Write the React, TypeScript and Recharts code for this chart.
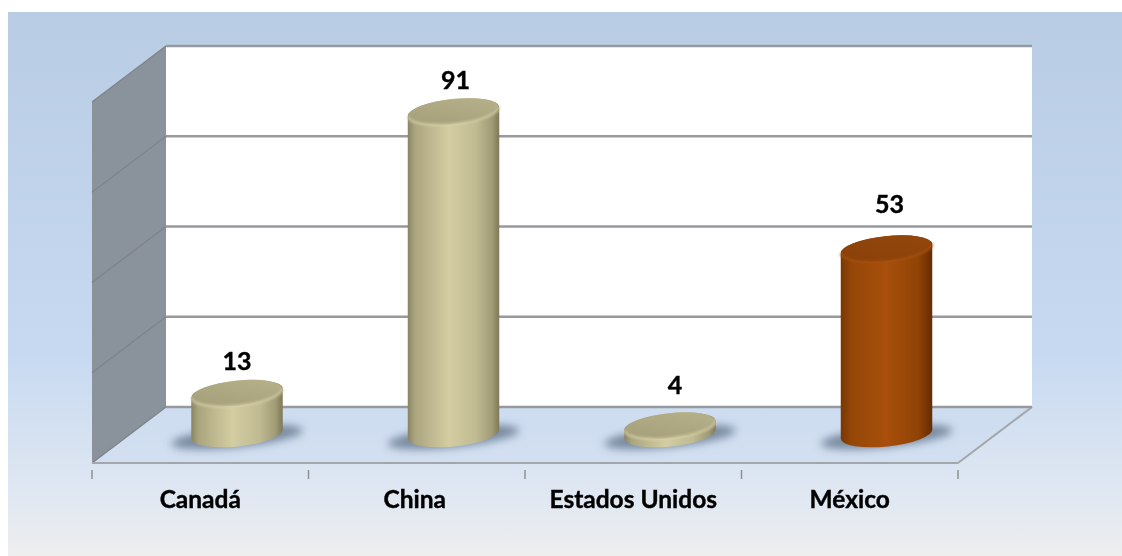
import { BarChart, Bar, XAxis, YAxis, CartesianGrid, LabelList } from 'recharts';

const categories = ['Canadá', 'China', 'Estados Unidos', 'México'];
const values = [13, 91, 4, 53];
const frameTicks = [0, 25, 50, 75, 100];
const highlighted = 'México';

const data = categories.map((category, i) => ({ category, value: values[i] }));

const WIDTH = 1122;
const HEIGHT = 556;
const LEFT = 92;
const TOP = 102;
const RIGHT = 958;
const BOTTOM = 463;
// depth of the fake 3D box, back wall sits this far from the front plane
const DEPTH_X = 74;
const DEPTH_Y = 56;
const BAND = (RIGHT - LEFT) / categories.length;
const FONT = 'Lato, sans-serif';

// hand placed labels in the original
const labelNudgeX = [0, 2, 5, 3];
const labelNudgeY = [-56, -55.5, -64.5, -68.5];
const tickNudge = [0, -2, 0, 0];

// sits in its own svg under the chart, recharts paints the grid below any plain children
const Walls = () => (
  <svg width={WIDTH} height={HEIGHT} style={{ position: 'absolute', left: 0, top: 0 }}>
    <rect x={LEFT + DEPTH_X} y={TOP - DEPTH_Y} width={RIGHT - LEFT} height={BOTTOM - TOP} fill="#ffffff" />
    <polygon
      points={`${LEFT},${TOP} ${LEFT + DEPTH_X},${TOP - DEPTH_Y} ${LEFT + DEPTH_X},${BOTTOM - DEPTH_Y} ${LEFT},${BOTTOM}`}
      fill="#8a929b"
    />
    <polygon
      points={`${LEFT},${BOTTOM} ${LEFT + DEPTH_X},${BOTTOM - DEPTH_Y} ${RIGHT + DEPTH_X},${BOTTOM - DEPTH_Y} ${RIGHT},${BOTTOM}`}
      fill="#c9daf0"
      fillOpacity={0.45}
    />
    <line x1={RIGHT} y1={BOTTOM} x2={RIGHT + DEPTH_X} y2={BOTTOM - DEPTH_Y} stroke="#a3a7ab" strokeWidth={2} />
  </svg>
);

const GridLine = (props: any) => {
  const { x1, x2, y1 } = props;
  return (
    <g>
      <line x1={x1} y1={y1} x2={x1 + DEPTH_X} y2={y1 - DEPTH_Y} stroke="#7f8489" strokeWidth={1.5} />
      <line x1={x1 + DEPTH_X} y1={y1 - DEPTH_Y} x2={x2 + DEPTH_X} y2={y1 - DEPTH_Y} stroke="#969a9e" strokeWidth={2.5} />
    </g>
  );
};

const Cylinder = (props: any) => {
  const { x, y, width, height, payload } = props;
  const rust = payload.category === highlighted;
  const cx = x + width / 2 + DEPTH_X / 2;
  const rx = width / 2;
  const ry = 12.5;
  const tilt = -6;
  const dx = rx * Math.cos((tilt * Math.PI) / 180);
  const dy = rx * Math.sin((tilt * Math.PI) / 180);
  // the cap reads a little higher than the floor offset, columns stand mid depth
  const topY = y - 23;
  const baseY = y + height - 29;
  const side = `M${cx - dx},${topY - dy} L${cx - dx},${baseY - dy} A${rx},${ry} ${tilt} 0 0 ${cx + dx},${baseY + dy} L${cx + dx},${topY + dy} A${rx},${ry} ${tilt} 0 0 ${cx - dx},${topY - dy} Z`;
  const rim = `M${cx - dx},${topY - dy} A${rx},${ry} ${tilt} 0 0 ${cx + dx},${topY + dy}`;
  return (
    <g>
      <ellipse
        cx={cx}
        cy={baseY + 3}
        rx={rx + 20}
        ry={10}
        fill="#66788e"
        fillOpacity={0.85}
        filter="url(#softShadow)"
        transform={`rotate(${tilt} ${cx} ${baseY + 3})`}
      />
      <path d={side} fill={rust ? 'url(#rustBody)' : 'url(#khakiBody)'} />
      <ellipse
        cx={cx}
        cy={topY}
        rx={rx - 0.5}
        ry={ry}
        fill={rust ? 'url(#rustTop)' : 'url(#khakiTop)'}
        transform={`rotate(${tilt} ${cx} ${topY})`}
      />
      <path
        d={rim}
        fill="none"
        stroke={rust ? '#a9530f' : '#d9d3ab'}
        strokeWidth={2.5}
        strokeOpacity={0.7}
        filter="url(#softRim)"
      />
    </g>
  );
};

const ValueLabel = (props: any) => {
  const { x, y, width, value, index } = props;
  return (
    <text
      x={x + width / 2 + DEPTH_X / 2 + labelNudgeX[index]}
      y={y + labelNudgeY[index]}
      textAnchor="middle"
      dominantBaseline="central"
      fill="#000000"
      stroke="#000000"
      strokeWidth={0.4}
      fontFamily={FONT}
      fontWeight={700}
      fontSize={25}
    >
      {value}
    </text>
  );
};

const CategoryTick = (props: any) => {
  const { x, y, payload, index } = props;
  const i = index ?? payload.index;
  const left = x - BAND / 2;
  return (
    <g>
      <line x1={left} y1={y - 1} x2={left} y2={y + 8} stroke="#8f9296" strokeWidth={1.5} />
      {i === categories.length - 1 && (
        <line x1={left + BAND} y1={y - 1} x2={left + BAND} y2={y + 8} stroke="#8f9296" strokeWidth={1.5} />
      )}
      <text
        x={x + tickNudge[i]}
        y={498}
        textAnchor="middle"
        dominantBaseline="central"
        fill="#000000"
        stroke="#000000"
        strokeWidth={0.4}
        fontFamily={FONT}
        fontWeight={700}
        fontSize={24.5}
      >
        {payload.value}
      </text>
    </g>
  );
};

const App = () => (
  <div style={{ position: 'absolute', left: 0, top: 0, width: WIDTH, height: HEIGHT, background: '#ffffff' }}>
    <div
      style={{
        position: 'absolute',
        left: 8,
        top: 12,
        right: 0,
        bottom: 0,
        background: 'linear-gradient(180deg, #b8cce4 0%, #c6d9f1 62%, #dfe7f2 88%, #eeeeee 100%)',
      }}
    />
    <div style={{ position: 'absolute', left: 0, top: 0, width: WIDTH, height: HEIGHT, filter: 'blur(0.45px)' }}>
      <Walls />
      <div style={{ position: 'absolute', left: 0, top: 0 }}>
        <BarChart
          width={WIDTH}
          height={HEIGHT}
          data={data}
          margin={{ top: TOP, left: LEFT, right: WIDTH - RIGHT, bottom: 0 }}
        >
          <defs>
            <linearGradient id="khakiBody" x1="0" y1="0" x2="1" y2="0">
              <stop offset="0%" stopColor="#8a8562" />
              <stop offset="8%" stopColor="#aba57f" />
              <stop offset="45%" stopColor="#d4cda2" />
              <stop offset="75%" stopColor="#c0ba92" />
              <stop offset="92%" stopColor="#a19b76" />
              <stop offset="100%" stopColor="#7d7856" />
            </linearGradient>
            <linearGradient id="khakiTop" x1="0" y1="1" x2="1" y2="0">
              <stop offset="0%" stopColor="#a49e78" />
              <stop offset="100%" stopColor="#b8b28c" />
            </linearGradient>
            <linearGradient id="rustBody" x1="0" y1="0" x2="1" y2="0">
              <stop offset="0%" stopColor="#7a3703" />
              <stop offset="12%" stopColor="#954707" />
              <stop offset="50%" stopColor="#a84f0b" />
              <stop offset="85%" stopColor="#8f4305" />
              <stop offset="100%" stopColor="#652b00" />
            </linearGradient>
            <linearGradient id="rustTop" x1="0" y1="1" x2="1" y2="0">
              <stop offset="0%" stopColor="#8a400a" />
              <stop offset="100%" stopColor="#93470c" />
            </linearGradient>
            <filter id="softShadow" x="-30%" y="-80%" width="160%" height="260%">
              <feGaussianBlur stdDeviation="4.5" />
            </filter>
            <filter id="softRim" x="-10%" y="-50%" width="120%" height="200%">
              <feGaussianBlur stdDeviation="1.2" />
            </filter>
          </defs>
          <CartesianGrid vertical={false} horizontalValues={frameTicks} horizontal={<GridLine />} />
          <XAxis
            dataKey="category"
            height={HEIGHT - BOTTOM}
            interval={0}
            tickLine={false}
            axisLine={{ stroke: '#a3a7ab', strokeWidth: 2 }}
            tick={<CategoryTick />}
          />
          <YAxis hide domain={[0, 100]} ticks={frameTicks} interval={0} />
          <Bar dataKey="value" barSize={92} isAnimationActive={false} shape={<Cylinder />}>
            <LabelList dataKey="value" content={<ValueLabel />} />
          </Bar>
        </BarChart>
      </div>
    </div>
  </div>
);

export default App;
